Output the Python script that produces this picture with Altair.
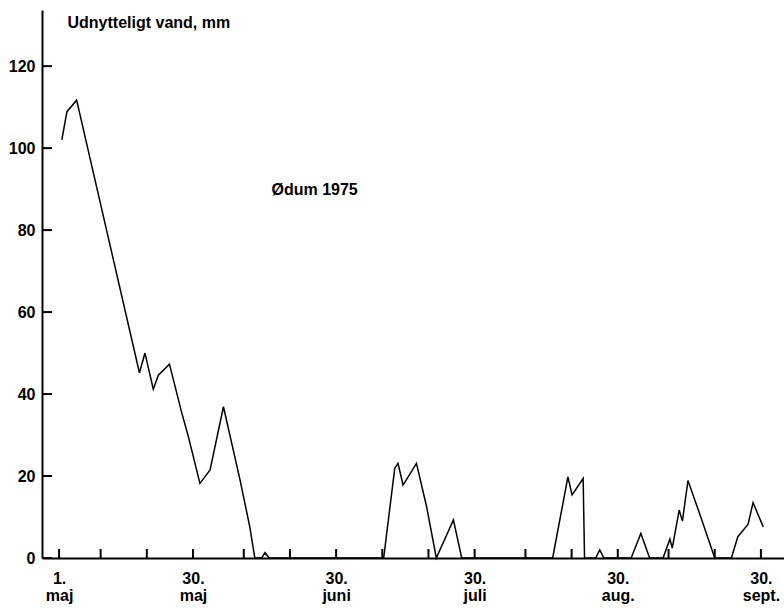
import altair as alt
import pandas as pd

# Day index: 0 = 1 May 1975
days = [0.6, 1.7, 3.8, 17.4, 18.6, 20.4, 21.5, 23.9, 26.6, 28.0, 30.5, 32.7, 35.6,
        39.2, 41.3, 42.4, 43.9, 44.6, 45.5, 70.3, 72.7, 73.4, 74.5, 77.4, 79.6,
        81.7, 85.4, 87.2, 106.9, 110.2, 111.1, 113.5, 113.8, 116.2, 117.1, 118.0,
        123.9, 126.0, 127.9, 130.8, 132.3, 132.8, 134.3, 135.0, 136.2, 138.7,
        142.0, 145.6, 147.0, 149.2, 150.3, 152.5]
water = [102, 108.9, 111.7, 45.2, 50, 41.2, 44.6, 47.3, 35.3, 29.6, 18.2, 21.5, 36.9,
         19, 7.6, 0, 0, 1.3, 0, 0, 21.9, 23.1, 17.8, 23.1, 12.5,
         0, 9.3, 0, 0, 19.8, 15.4, 19.4, 0, 0, 2, 0,
         0, 6, 0, 0, 4.6, 2.4, 11.7, 9, 18.9, 10.9,
         0, 0, 5.2, 8.2, 13.5, 7.6]

y_ticks = [0, 20, 40, 60, 80, 100, 120]
x_tick_days = [0, 9, 19, 29, 40, 50, 60, 70, 80, 90, 101, 111, 121, 132, 142, 152]
label_days = [0, 29, 60, 90, 121, 152]
label_top = ["1.", "30.", "30.", "30.", "30.", "30."]
label_bottom = ["maj", "maj", "juni", "juli", "aug.", "sept."]

y_title = "Udnytteligt vand, mm"
annot_text = ["Ødum 1975"]
annot_day = [46.0]
annot_val = [88.5]

W, H = 742, 548
FONT = "Liberation Sans"

expr = ""
for d, a, b in zip(label_days, label_top, label_bottom):
    expr += f"datum.value == {d} ? ['{a}', '{b}'] : "
expr += "''"

df = pd.DataFrame({"day": days, "v": water})
xscale = alt.Scale(domain=[-3.7, 157], nice=False, zero=False)
yscale = alt.Scale(domain=[0, 133.7], nice=False)

line = alt.Chart(df).mark_line(color="black", strokeWidth=1.5).encode(
    x=alt.X("day:Q", scale=xscale,
            axis=alt.Axis(values=label_days, labelExpr=expr, title=None, grid=False,
                          ticks=False, tickSize=0, labelPadding=12,
                          labelFontSize=16, labelFontWeight="bold", labelColor="black",
                          labelLineHeight=17, labelOverlap=False, labelFlush=False,
                          domainColor="black", domainWidth=2, labelFont=FONT)),
    y=alt.Y("v:Q", scale=yscale,
            axis=alt.Axis(values=y_ticks, title=y_title, grid=False, ticks=False,
                          tickSize=0, labelPadding=7, labelFontSize=16,
                          labelFontWeight="bold", labelColor="black", labelFont=FONT,
                          domainColor="black", domainWidth=2,
                          titleAngle=0, titleAlign="left", titleBaseline="alphabetic",
                          titleX=25, titleY=17, titleFontSize=16, titleFontWeight="bold",
                          titleColor="black", titleFont=FONT)),
)

yt = alt.Chart(pd.DataFrame({"t": y_ticks})).mark_rule(color="black", strokeWidth=2).encode(
    y=alt.Y("t:Q", scale=yscale), x=alt.value(0), x2=alt.value(10))

xt = alt.Chart(pd.DataFrame({"d": x_tick_days})).mark_rule(color="black", strokeWidth=2).encode(
    x=alt.X("d:Q", scale=xscale), y=alt.value(H), y2=alt.value(H - 9))

annot = alt.Chart(pd.DataFrame({"d": annot_day, "v": annot_val, "t": annot_text})).mark_text(
    align="left", baseline="alphabetic", fontSize=16, fontWeight="bold", font=FONT, color="black"
).encode(x=alt.X("d:Q", scale=xscale), y=alt.Y("v:Q", scale=yscale), text="t:N")

chart = alt.layer(line, yt, xt, annot).properties(
    width=W, height=H,
    autosize=alt.AutoSizeParams(type="none"),
    padding={"left": 42, "top": 10, "right": 0, "bottom": 50},
    background="white",
).configure(font=FONT).configure_view(stroke=None)

chart.save("out.html", embed_options={"renderer": "svg", "actions": False})
